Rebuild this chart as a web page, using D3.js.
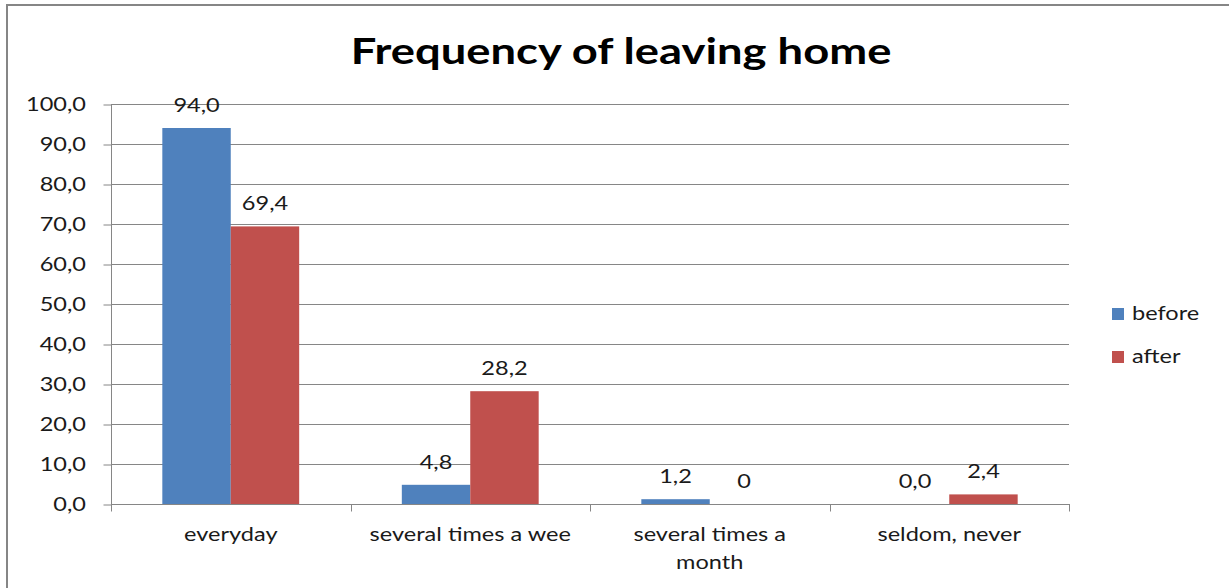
<!DOCTYPE html>
<html><head><meta charset="utf-8">
<script src="https://cdn.jsdelivr.net/npm/d3@7"></script>
<style>body{margin:0;background:#fff}svg{display:block}</style>
</head><body>
<svg id="chart" width="1229" height="588"></svg>
<script>
const title = "Frequency of leaving home";
const categories = ["everyday", "several times a wee", "several times a month", "seldom, never"];
const seriesNames = ["before", "after"];
const beforeValues = [94.0, 4.8, 1.2, 0.0];
const afterValues = [69.4, 28.2, 0, 2.4];
const beforeLabels = ["94,0", "4,8", "1,2", "0,0"];
const afterLabels = ["69,4", "28,2", "0", "2,4"];
const yTicks = [0, 10, 20, 30, 40, 50, 60, 70, 80, 90, 100];
const yTickLabels = ["0,0", "10,0", "20,0", "30,0", "40,0", "50,0", "60,0", "70,0", "80,0", "90,0", "100,0"];
const colors = ["#4F81BD", "#C0504D"];

const svg = d3.select("#chart");
const FONT = "Lato, 'Open Sans', sans-serif";
const SX = 1.24;
const FS = 19;
const pL = 111, pR = 1069, pT = 104, pB = 504;

function stretchedText(g, x, y, str, opts) {
  return g.append("text")
    .attr("transform", `translate(${x},${y}) scale(${opts.sx || SX},1)`)
    .attr("text-anchor", opts.anchor || "middle")
    .attr("font-family", FONT)
    .attr("font-size", opts.size || FS)
    .attr("font-weight", opts.weight || "normal")
    .attr("fill", opts.fill || "#1a1a1a")
    .text(str);
}

// outer border
svg.append("path")
  .attr("d", "M7,600 L7,5 L1240,5")
  .attr("fill", "none").attr("stroke", "#868686").attr("stroke-width", 2);

// title
stretchedText(svg, 621, 64, title, {size: 36, sx: 1.26, weight: "bold", fill: "#000"});

const x0 = d3.scaleBand().domain(categories).range([pL, pR]).paddingInner(0).paddingOuter(0);
const barW = x0.bandwidth() / 3.5;
const x1 = d3.scaleBand().domain(seriesNames).range([0, barW * 2]);
const y = d3.scaleLinear().domain([0, 100]).range([pB, pT]);

// gridlines
svg.append("g").selectAll("line").data(yTicks.filter(d => d > 0)).join("line")
  .attr("x1", pL).attr("x2", pR)
  .attr("y1", d => Math.round(y(d)) + 0.5).attr("y2", d => Math.round(y(d)) + 0.5)
  .attr("stroke", "#868686").attr("stroke-width", 1);

// y axis
const yAxis = svg.append("g").attr("transform", `translate(${pL + 0.5},0)`)
  .call(d3.axisLeft(y).tickValues(yTicks).tickSize(8).tickFormat(""));
yAxis.selectAll("path,line").attr("stroke", "#868686");
yAxis.select(".domain").attr("d", `M0,${pT}V${pB}`);
yAxis.selectAll(".tick line").attr("transform", "translate(0,0.5)");

yTicks.forEach((v, i) => {
  stretchedText(svg, 86, Math.round(y(v)) + 7, yTickLabels[i], {anchor: "end"});
});

// x axis
const xAxisG = svg.append("g").attr("transform", `translate(0,${pB + 0.5})`);
xAxisG.append("line").attr("x1", pL).attr("x2", pR + 1).attr("stroke", "#868686");
const bounds = categories.map(c => x0(c)).concat([pR]);
xAxisG.selectAll("line.tk").data(bounds).join("line").attr("class", "tk")
  .attr("x1", d => Math.round(d) + 0.5).attr("x2", d => Math.round(d) + 0.5)
  .attr("y1", 0).attr("y2", 7).attr("stroke", "#868686");

// bars
const series = [beforeValues, afterValues];
const labels = [beforeLabels, afterLabels];
const groupOffset = (x0.bandwidth() - barW * 2) / 2;
series.forEach((vals, si) => {
  svg.append("g").selectAll("rect").data(vals).join("rect")
    .attr("x", (d, i) => x0(categories[i]) + groupOffset + x1(seriesNames[si]))
    .attr("width", barW)
    .attr("y", d => y(d))
    .attr("height", d => pB - y(d))
    .attr("fill", colors[si]);
  vals.forEach((d, i) => {
    const cx = x0(categories[i]) + groupOffset + x1(seriesNames[si]) + barW / 2;
    stretchedText(svg, cx, y(d) - 16, labels[si][i], {});
  });
});

// category labels (wrapped)
categories.forEach(c => {
  const cx = x0(c) + x0.bandwidth() / 2;
  const words = c.split(" ");
  const maxW = x0.bandwidth() * 0.92;
  const lines = [];
  let cur = "";
  const probe = svg.append("text").attr("font-family", FONT).attr("font-size", FS);
  words.forEach(w => {
    const test = cur ? cur + " " + w : w;
    probe.text(test);
    if (probe.node().getComputedTextLength() * SX > maxW && cur) {
      lines.push(cur); cur = w;
    } else cur = test;
  });
  lines.push(cur);
  probe.remove();
  lines.forEach((ln, k) => stretchedText(svg, cx, 541 + k * 28, ln, {}));
});

// legend
seriesNames.forEach((s, i) => {
  const ly = 308 + i * 43;
  svg.append("rect").attr("x", 1112).attr("y", ly).attr("width", 12).attr("height", 12).attr("fill", colors[i]);
  stretchedText(svg, 1132, ly + 12, s, {anchor: "start"});
});
</script>
</body></html>
